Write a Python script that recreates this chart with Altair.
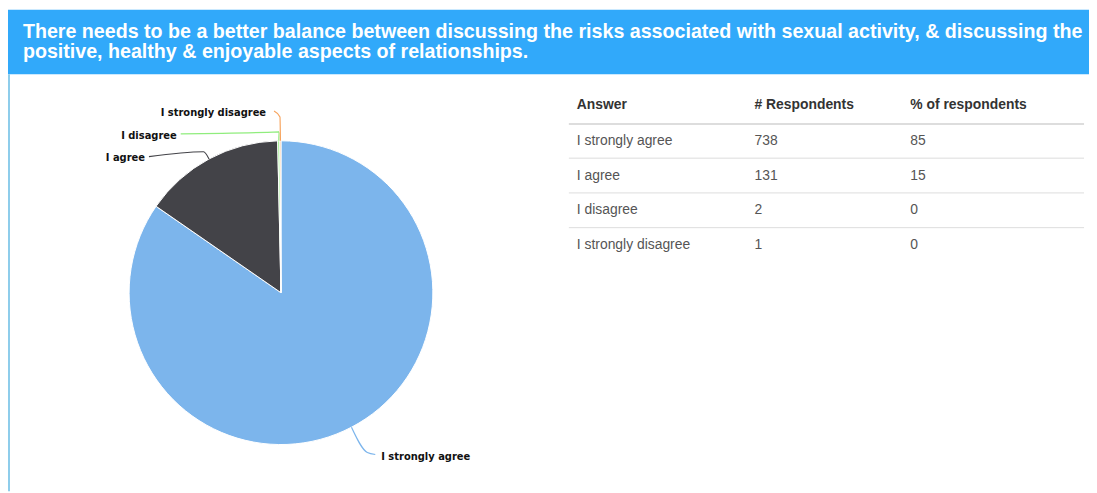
import altair as alt
import pandas as pd
import numpy as np

# ---- data ----
answers = ["I strongly agree", "I agree", "I disagree", "I strongly disagree"]
respondents = [738, 131, 2, 1]
percent = [85, 15, 0, 0]
headers = ["Answer", "# Respondents", "% of respondents"]
title_lines = [
    "There needs to be a better balance between discussing the risks associated with sexual activity, & discussing the",
    "positive, healthy & enjoyable aspects of relationships.",
]

# ---- styles / layout ----
slice_colors = ["#7CB5EC", "#434348", "#90ED7D", "#F7A35C"]
W, H = 1089, 485
CX, CY, R = 275, 285, 153
BANNER_H = 65
label_pos = [(376, 451, "left"), (138, 149, "right"), (170, 127, "right"), (260, 104, "right")]
elbows = [[(362, 446), (370, 448)], [(197, 143), (142, 148)], [(273, 123), (174, 125)], [(274, 108), (268, 102)]]
col_x = [573, 752, 909]
header_y = 96
row_y0, row_h = 132, 35
line_x = (565, 1084)

xs = alt.Scale(domain=[0, W], range=[0, W], nice=False, zero=False)
ys = alt.Scale(domain=[0, H], range=[0, H], nice=False, zero=False)

def X(f):
    return alt.X(f, type="quantitative", scale=xs, axis=None)

def Y(f):
    return alt.Y(f, type="quantitative", scale=ys, axis=None)

one = pd.DataFrame({"a": [0]})

banner = alt.Chart(one).mark_rect(color="#31A9FA").encode(
    x=alt.value(0), x2=alt.value(W), y=alt.value(0), y2=alt.value(BANNER_H))
border = alt.Chart(one).mark_rule(color="#8ECDEB", strokeWidth=2).encode(
    x=alt.value(1), y=alt.value(BANNER_H), y2=alt.value(H))

title_df = pd.DataFrame({"t": title_lines, "py": [22 + 20.5 * i for i in range(len(title_lines))], "px": [15] * len(title_lines)})
title = alt.Chart(title_df).mark_text(
    align="left", baseline="middle", font="Liberation Sans", fontWeight="bold", fontSize=19.8, color="white"
).encode(x=X("px"), y=Y("py"), text="t:N")

# pie
pie_df = pd.DataFrame({"answer": answers, "n": respondents, "order": list(range(len(answers)))})
pie = alt.Chart(pie_df).mark_arc(outerRadius=R, stroke="white", strokeWidth=1).encode(
    theta=alt.Theta("n:Q", stack=True),
    order=alt.Order("order:Q"),
    color=alt.Color("answer:N", scale=alt.Scale(domain=answers, range=slice_colors), legend=None),
    x=alt.value(CX), y=alt.value(CY),
)

# connectors from slice mid-angles
total = float(sum(respondents))
cum = np.cumsum(respondents)
rows = []
for i, a in enumerate(answers):
    ang = (cum[i] - respondents[i] / 2.0) / total * 2 * np.pi
    ex, ey = CX + R * np.sin(ang), CY - R * np.cos(ang)
    pts = [(ex, ey)] + elbows[i]
    for k, (px, py) in enumerate(pts):
        rows.append({"answer": a, "k": k, "px": px, "py": py})
con_df = pd.DataFrame(rows)
connectors = alt.Chart(con_df).mark_line(strokeWidth=1.2, interpolate="monotone").encode(
    x=X("px"), y=Y("py"), order="k:Q", detail="answer:N",
    color=alt.Color("answer:N", scale=alt.Scale(domain=answers, range=slice_colors), legend=None),
)

lab_df = pd.DataFrame({"answer": answers, "px": [p[0] for p in label_pos], "py": [p[1] for p in label_pos],
                       "al": [p[2] for p in label_pos]})
labels_l = alt.Chart(lab_df[lab_df.al == "left"]).mark_text(
    align="left", baseline="middle", font="DejaVu Sans", fontWeight="bold", fontSize=10, color="#111"
).encode(x=X("px"), y=Y("py"), text="answer:N")
labels_r = alt.Chart(lab_df[lab_df.al == "right"]).mark_text(
    align="right", baseline="middle", font="DejaVu Sans", fontWeight="bold", fontSize=10, color="#111"
).encode(x=X("px"), y=Y("py"), text="answer:N")

# table
hdr_df = pd.DataFrame({"t": headers, "px": col_x, "py": [header_y] * 3})
hdr = alt.Chart(hdr_df).mark_text(
    align="left", baseline="middle", font="Liberation Sans", fontWeight="bold", fontSize=14, color="#333"
).encode(x=X("px"), y=Y("py"), text="t:N")

cells = []
for i, a in enumerate(answers):
    for j, v in enumerate([a, str(respondents[i]), str(percent[i])]):
        cells.append({"t": v, "px": col_x[j], "py": row_y0 + row_h * i})
cell_df = pd.DataFrame(cells)
body = alt.Chart(cell_df).mark_text(
    align="left", baseline="middle", font="Liberation Sans", fontSize=14, color="#555"
).encode(x=X("px"), y=Y("py"), text="t:N")

hline_df = pd.DataFrame({"py": [header_y + 19], "x1": [line_x[0]], "x2": [line_x[1]]})
hline = alt.Chart(hline_df).mark_rule(color="#DDDDDD", strokeWidth=2).encode(
    x=X("x1"), x2="x2:Q", y=Y("py"))
rline_df = pd.DataFrame({"py": [row_y0 + row_h * i + 17.5 for i in range(len(answers) - 1)],
                         "x1": [line_x[0]] * (len(answers) - 1), "x2": [line_x[1]] * (len(answers) - 1)})
rlines = alt.Chart(rline_df).mark_rule(color="#DDDDDD", strokeWidth=1).encode(
    x=X("x1"), x2="x2:Q", y=Y("py"))

chart = alt.layer(
    banner, border, title, pie, connectors, labels_l, labels_r, hline, rlines, hdr, body
).properties(
    width=W, height=H, autosize=alt.AutoSizeParams(type="none"), padding=0
).configure_view(stroke=None)

chart.save("out.html", embed_options={"renderer": "svg", "actions": False})
